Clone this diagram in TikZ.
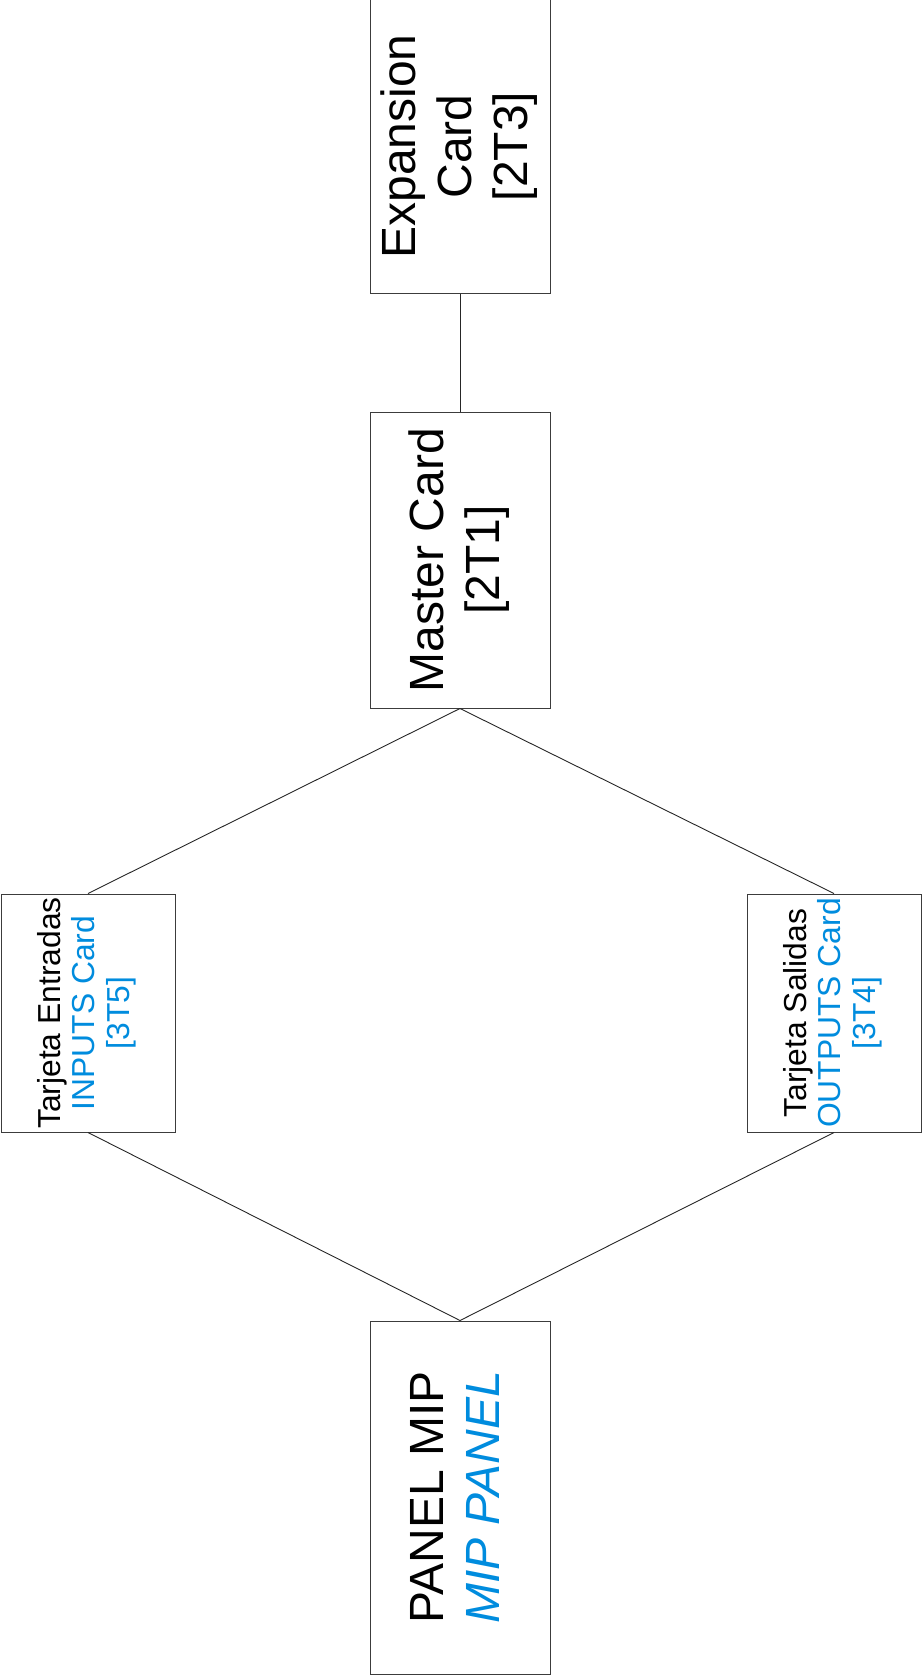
\documentclass[tikz,border=0pt]{standalone}
\usepackage{fontspec}
\setmainfont{Liberation Sans}
\definecolor{lblue}{RGB}{0,140,222}
\definecolor{edge}{RGB}{60,60,60}
\newcommand{\bigtxt}[1]{\rotatebox{90}{\fontsize{48}{56}\selectfont\begin{tabular}{@{}c@{}}#1\end{tabular}}}
\newcommand{\smalltxt}[1]{\rotatebox{90}{\fontsize{31.8}{34.5}\selectfont\begin{tabular}{@{}c@{}}#1\end{tabular}}}
\tikzset{
  card/.style={draw=edge, line width=1pt, inner sep=0pt, fill=white},
  link/.style={draw=black!85, line width=0.9pt}
}
\begin{document}
\begin{tikzpicture}[x=1pt,y=-1pt]
\useasboundingbox (0,0) rectangle (922,1675);
\node[card, minimum width=180pt, minimum height=293pt] (exp) at (460,146.5)
  {\bigtxt{Expansion\\Card\\\relax[2T3]}};
\node[card, minimum width=180pt, minimum height=296pt] (master) at (460,560)
  {\bigtxt{Master Card\\\relax[2T1]}};
\node[card, minimum width=174pt, minimum height=238pt] (inp) at (88,1013)
  {\smalltxt{Tarjeta Entradas\\\textcolor{lblue}{INPUTS Card}\\\textcolor{lblue}{[3T5]}}};
\node[card, minimum width=174pt, minimum height=238pt] (out) at (834,1013)
  {\smalltxt{Tarjeta Salidas\\\textcolor{lblue}{OUTPUTS Card}\\\textcolor{lblue}{[3T4]}}};
\node[card, minimum width=180pt, minimum height=353pt] (panel) at (460,1497.5)
  {\bigtxt{PANEL MIP\\\textcolor{lblue}{\itshape MIP PANEL}}};
\draw[link] (exp.south) -- (master.north);
\draw[link] (master.south) -- (inp.north);
\draw[link] (master.south) -- (out.north);
\draw[link] (inp.south) -- (panel.north);
\draw[link] (out.south) -- (panel.north);
\end{tikzpicture}
\end{document}
